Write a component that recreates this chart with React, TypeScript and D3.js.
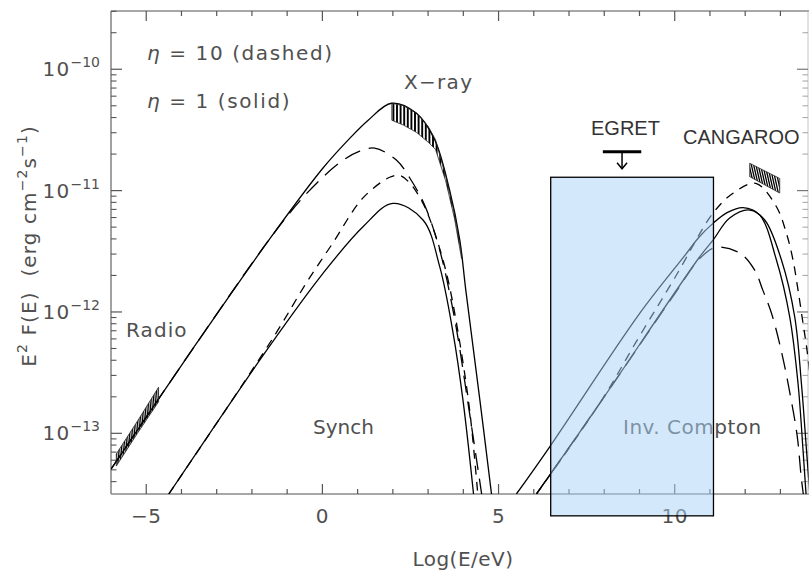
import React from "react";
import * as d3 from "d3";

// ---------- axes ----------
const X_DOMAIN = [-6, 13.8];
const LOGF_DOMAIN = [-13.5, -9.52];
const xTickValues = d3.range(-5, 14);
const xTickLabels = [-5, 0, 5, 10];
const yTickExps = [-13, -12, -11, -10];

// ---------- synchrotron curves (E = log10(E/eV), F = log10 E^2F) ----------
const synSolidHiE = [-6, -3.67, -1.5, 0.0, 0.775, 1.3, 1.96, 2.67, 3.19, 3.61, 3.9, 4.07, 4.47, 4.8];
const synSolidHiF = [-13.295, -12.3, -11.4, -10.82, -10.57, -10.42, -10.28, -10.363, -10.583, -10.995, -11.408, -11.82, -12.726, -13.5];

const synLongDashE = [-6, -3.67, -1.5, -0.5, 0.49, 1.06, 1.48, 2.1, 2.48, 2.9, 3.33, 3.76, 4.12, 4.52];
const synLongDashF = [-13.295, -12.3, -11.4, -11.04, -10.77, -10.675, -10.65, -10.748, -10.896, -11.119, -11.49, -12.067, -12.726, -13.5];

const synShortDashE = [-4.36, -2.5, -1.306, -0.454, 0.3, 1.152, 1.91, 2.19, 2.48, 2.85, 3.13, 3.52, 3.84, 4.18, 4.41];
const synShortDashF = [-13.5, -12.7, -12.17, -11.76, -11.43, -11.06, -10.89, -10.875, -10.937, -11.102, -11.3, -11.679, -12.149, -12.81, -13.5];

const synSolidLoE = [-4.36, -1.544, 0.017, 1.152, 2.0, 2.856, 3.33, 3.71, 3.99, 4.29];
const synSolidLoF = [-13.5, -12.3, -11.682, -11.298, -11.105, -11.242, -11.627, -12.174, -12.726, -13.5];

// ---------- inverse Compton curves ----------
const icSolidAE = [5.507, 6.452, 9.006, 10.3, 10.7, 11.087, 11.5, 11.939, 12.41, 12.887, 13.264, 13.5, 13.642, 13.72, 13.85];
const icSolidAF = [-13.5, -13.111, -12.012, -11.53, -11.38, -11.27, -11.18, -11.141, -11.2, -11.572, -12.04, -12.589, -13.138, -13.47, -14.0];

const icSolidBE = [6.074, 7.871, 10.71, 11.087, 11.56, 12.13, 12.555, 13.03, 13.406, 13.596, 13.74, 13.89];
const icSolidBF = [-13.5, -12.753, -11.545, -11.408, -11.226, -11.16, -11.242, -11.572, -12.04, -12.589, -13.138, -13.71];

const icShortDashE = [6.074, 7.871, 9.0, 10.0, 11.087, 11.655, 12.3, 12.887, 13.17, 13.358, 13.5, 13.642, 13.755, 13.9];
const icShortDashF = [-13.5, -12.753, -12.2, -11.72, -11.186, -11.022, -10.94, -11.133, -11.352, -11.572, -11.82, -12.094, -12.314, -12.7];

const icLongDashE = [6.074, 7.871, 10.0, 10.71, 11.17, 11.845, 12.27, 12.5, 12.745, 13.02, 13.28, 13.477, 13.59, 13.65];
const icLongDashF = [-13.5, -12.753, -11.85, -11.56, -11.467, -11.514, -11.655, -11.82, -12.009, -12.314, -12.685, -13.023, -13.361, -13.5];

// ---------- observations ----------
const radioE = [-5.85, -5.25, -4.65];
const radioHi = [-13.17, -12.9, -12.62];
const radioLo = [-13.27, -13.0, -12.74];

const xrayE = [1.97, 2.3, 2.67, 3.0, 3.21, 3.5, 3.75, 3.95];
const xrayHi = [-10.28, -10.3, -10.36, -10.47, -10.58, -10.88, -11.19, -11.52];
const xrayLo = [-10.42, -10.46, -10.52, -10.6, -10.66, -10.92, -11.23, -11.56];

const cangE = [12.13, 12.98];
const cangHi = [-10.775, -10.9];
const cangLo = [-10.885, -11.02];

const egretE = [7.96, 9.05];
const egretLimitF = -10.68;
const egretArrowTipF = -10.82;

const boxE = [6.48, 11.1];
const boxF = [-10.89, -13.68];

const LONG = "17,9";
const SHORT = "9,7";

const txt = { fontFamily: "DejaVu Sans", fontSize: 20, fill: "#505050" } as const;

export default function App() {
  const left = 111, right = 808.6, top = 11, bottom = 494;
  const x = d3.scaleLinear().domain(X_DOMAIN).range([left, right]);
  const y = d3.scaleLog().domain([10 ** LOGF_DOMAIN[0], 10 ** LOGF_DOMAIN[1]]).range([bottom, top]);
  const Y = (lf: number) => y(10 ** lf);

  const path = (E: number[], F: number[]) =>
    d3.line<number>().x((d) => x(d)).y((_, i) => Y(F[i])).curve(d3.curveCatmullRom.alpha(0.5))(E) || "";

  const curves = [
    { E: synSolidHiE, F: synSolidHiF, dash: undefined },
    { E: synLongDashE, F: synLongDashF, dash: LONG },
    { E: synShortDashE, F: synShortDashF, dash: SHORT },
    { E: synSolidLoE, F: synSolidLoF, dash: undefined },
    { E: icSolidAE, F: icSolidAF, dash: undefined },
    { E: icSolidBE, F: icSolidBF, dash: undefined },
    { E: icShortDashE, F: icShortDashF, dash: SHORT },
    { E: icLongDashE, F: icLongDashF, dash: LONG },
  ];

  const band = (E: number[], hi: number[], lo: number[]) => {
    const pts: [number, number][] = [];
    E.forEach((e, i) => pts.push([x(e), Y(hi[i])]));
    for (let i = E.length - 1; i >= 0; i--) pts.push([x(E[i]), Y(lo[i])]);
    return "M" + pts.map((p) => p.join(",")).join("L") + "Z";
  };

  const hatch = (E: number[], hi: number[], lo: number[], stepPx: number, slantPx: number) => {
    const hiS = d3.scaleLinear().domain(E).range(hi);
    const loS = d3.scaleLinear().domain(E).range(lo);
    const x0 = x(E[0]) - Math.abs(slantPx) - 2;
    const x1 = x(E[E.length - 1]) + Math.abs(slantPx) + 2;
    return d3.range(x0, x1, stepPx).map((px) => {
      const e = x.invert(Math.min(Math.max(px, x(E[0])), x(E[E.length - 1])));
      return { x1: px - slantPx, y1: Y(hiS(e)) - 4, x2: px, y2: Y(loS(e)) + 4 };
    });
  };

  const yMinor: number[] = [];
  for (let ex = -14; ex <= -10; ex++) {
    for (let k = 2; k <= 9; k++) {
      const v = k * 10 ** ex;
      if (v > 10 ** LOGF_DOMAIN[0] && v < 10 ** LOGF_DOMAIN[1]) yMinor.push(v);
    }
  }

  const frame = "#8a8a8a";
  const tickC = "#555";

  const bands = [
    { id: "radio", E: radioE, hi: radioHi, lo: radioLo, step: 1.6, slant: 1.5, w: 1.1 },
    { id: "xray", E: xrayE, hi: xrayHi, lo: xrayLo, step: 3.6, slant: 0, w: 1.9 },
    { id: "cang", E: cangE, hi: cangHi, lo: cangLo, step: 2.6, slant: 5, w: 1.3 },
  ];

  const egretCx = x((egretE[0] + egretE[1]) / 2);

  return (
    <svg width={809} height={574} style={{ position: "absolute", left: 0, top: 0, background: "#fff" }}>
      <defs>
        <clipPath id="plot">
          <rect x={left} y={top} width={right - left} height={bottom - top} />
        </clipPath>
        {bands.map((b) => (
          <clipPath id={"clip-" + b.id} key={b.id}>
            <path d={band(b.E, b.hi, b.lo)} />
          </clipPath>
        ))}
      </defs>

      {/* frame */}
      <line x1={left} x2={809} y1={top} y2={top} stroke={frame} strokeWidth={1.6} />
      <line x1={left} x2={809} y1={bottom} y2={bottom} stroke={frame} strokeWidth={1.6} />
      <line x1={left} x2={left} y1={top} y2={bottom} stroke={frame} strokeWidth={1.6} />
      <line x1={808} x2={808} y1={top} y2={bottom} stroke="#c4c4c4" strokeWidth={1} />

      {/* x ticks */}
      {xTickValues.map((v) => {
        const len = v % 5 === 0 ? 10 : 5;
        return (
          <g key={"xt" + v}>
            <line x1={x(v)} x2={x(v)} y1={bottom} y2={bottom - len} stroke={tickC} strokeWidth={1.2} />
            <line x1={x(v)} x2={x(v)} y1={top} y2={top + len} stroke={tickC} strokeWidth={1.2} />
          </g>
        );
      })}
      {/* y ticks */}
      {yTickExps.map((ex) => (
        <g key={"yt" + ex}>
          <line x1={left} x2={left + 11} y1={Y(ex)} y2={Y(ex)} stroke={tickC} strokeWidth={1.2} />
          <line x1={808} x2={808 - 11} y1={Y(ex)} y2={Y(ex)} stroke="#777" strokeWidth={1.2} />
        </g>
      ))}
      {yMinor.map((v, i) => (
        <g key={"ym" + i}>
          <line x1={left} x2={left + 5.5} y1={y(v)} y2={y(v)} stroke={tickC} strokeWidth={1.1} />
          <line x1={808} x2={808 - 5.5} y1={y(v)} y2={y(v)} stroke="#aaa" strokeWidth={1.1} />
        </g>
      ))}

      {/* tick labels */}
      {xTickLabels.map((v) => (
        <text key={"xl" + v} {...txt} x={x(v)} y={523} textAnchor="middle" letterSpacing={0.5}>
          {v < 0 ? "\u2212" + Math.abs(v) : String(v)}
        </text>
      ))}
      {yTickExps.map((ex) => (
        <text key={"yl" + ex} {...txt} x={100} y={Y(ex) + 7} textAnchor="end">
          <tspan letterSpacing={1.3}>10</tspan>
          <tspan fontSize={14} dy={-9}>{"\u2212" + Math.abs(ex)}</tspan>
        </text>
      ))}

      {/* axis titles */}
      <text {...txt} x={463} y={566} textAnchor="middle" letterSpacing={0.5}>
        Log(E/eV)
      </text>
      <text {...txt} transform="rotate(-90)" x={-246} y={36} textAnchor="middle" letterSpacing={1.1}>
        <tspan>E</tspan>
        <tspan fontSize={14} dy={-9}>2</tspan>
        <tspan dy={9}>{"\u00a0F(E)\u00a0\u00a0(erg\u00a0cm"}</tspan>
        <tspan fontSize={14} dy={-9}>{"\u22122"}</tspan>
        <tspan dy={9}>s</tspan>
        <tspan fontSize={14} dy={-9}>{"\u22121"}</tspan>
        <tspan dy={9}>)</tspan>
      </text>

      {/* curves */}
      <g clipPath="url(#plot)">
        {curves.map((c, i) => (
          <path key={"c" + i} d={path(c.E, c.F)} fill="none" stroke="#000" strokeWidth={1.3} strokeDasharray={c.dash} />
        ))}
      </g>

      {/* observation bands */}
      {bands.map((b) => (
        <g key={"b" + b.id}>
          <g clipPath={"url(#clip-" + b.id + ")"}>
            {hatch(b.E, b.hi, b.lo, b.step, b.slant).map((h, i) => (
              <line key={i} x1={h.x1} y1={h.y1} x2={h.x2} y2={h.y2} stroke="#000" strokeWidth={b.w} />
            ))}
          </g>
          <path d={band(b.E, b.hi, b.lo)} fill="none" stroke="#222" strokeWidth={0.8} />
        </g>
      ))}

      {/* EGRET upper limit */}
      <line x1={x(egretE[0])} x2={x(egretE[1])} y1={Y(egretLimitF)} y2={Y(egretLimitF)} stroke="#000" strokeWidth={3} />
      <line x1={egretCx} x2={egretCx} y1={Y(egretLimitF)} y2={Y(egretArrowTipF)} stroke="#000" strokeWidth={1.5} />
      <polyline
        points={`${egretCx - 5},${Y(egretArrowTipF) - 6} ${egretCx},${Y(egretArrowTipF)} ${egretCx + 5},${Y(egretArrowTipF) - 6}`}
        fill="none"
        stroke="#000"
        strokeWidth={1.5}
      />

      {/* annotations */}
      <text {...txt} x={147} y={59.5} letterSpacing={1.6}>
        <tspan fontStyle="italic">η</tspan> = 10 (dashed)
      </text>
      <text {...txt} x={147} y={107.5} letterSpacing={1.6}>
        <tspan fontStyle="italic">η</tspan> = 1 (solid)
      </text>
      <text {...txt} x={404} y={88.5} letterSpacing={1.3}>
        X{"\u2212"}ray
      </text>
      <text {...txt} x={126} y={337} letterSpacing={1.1}>
        Radio
      </text>
      <text {...txt} x={313} y={434} letterSpacing={0}>
        Synch
      </text>
      <text {...txt} x={623} y={434} letterSpacing={0.5}>
        Inv. Compton
      </text>
      <text x={591} y={135} fontFamily="Liberation Sans" fontSize={20} fill="#333">
        EGRET
      </text>
      <text x={683} y={143.5} fontFamily="Liberation Sans" fontSize={20} fill="#333">
        CANGAROO
      </text>

      {/* highlighted box */}
      <rect
        x={x(boxE[0])}
        y={Y(boxF[0])}
        width={x(boxE[1]) - x(boxE[0])}
        height={Y(boxF[1]) - Y(boxF[0])}
        fill="#a9d1f7"
        fillOpacity={0.5}
        stroke="#000"
        strokeWidth={1.3}
      />
    </svg>
  );
}
